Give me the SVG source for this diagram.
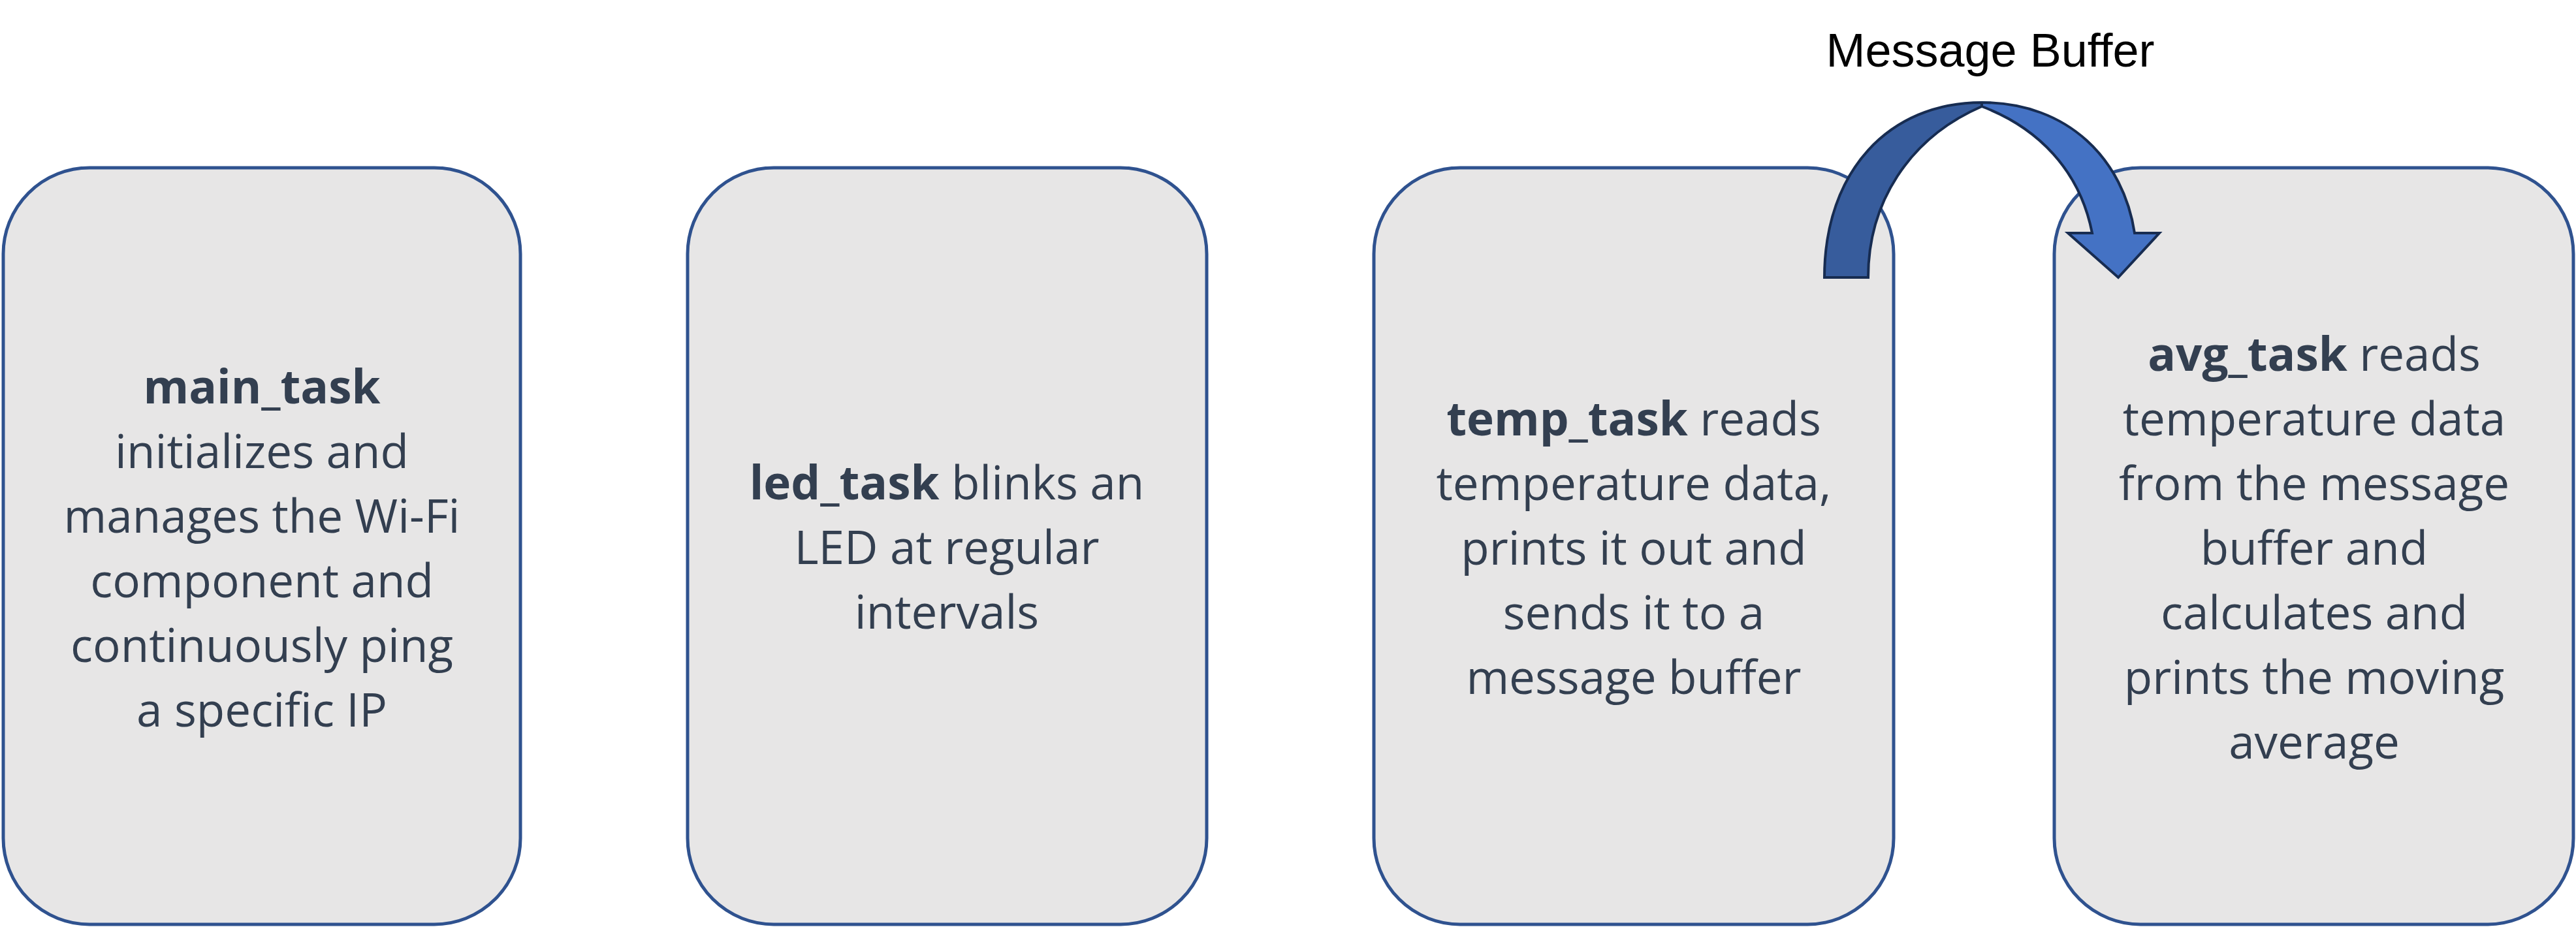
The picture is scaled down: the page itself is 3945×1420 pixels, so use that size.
<svg xmlns="http://www.w3.org/2000/svg" width="3945" height="1420" viewBox="0 0 3945 1420">
<style>
.box{fill:#E7E6E6;stroke:#2F528F;stroke-width:5}
.t{font-family:"Open Sans","Noto Sans",sans-serif;font-size:71px;fill:#333F50;text-anchor:middle}
.b{font-weight:bold}
.lbl{font-family:"Liberation Sans",Arial,sans-serif;font-size:72px;fill:#000000;text-anchor:middle}
.arrL{fill:#375C9C;stroke:#172C51;stroke-width:4;stroke-linejoin:miter}
.arrR{fill:#4472C4;stroke:#172C51;stroke-width:4;stroke-linejoin:miter}
</style>
<rect width="3945" height="1420" fill="#FFFFFF"/>
<g id="main_task">
<rect class="box" x="5" y="257" width="792" height="1159" rx="132" ry="132"/>
<text class="t" x="401"><tspan class="b" x="401" y="618">main_task</tspan><tspan x="401" y="717">initializes and</tspan><tspan x="401" y="816">manages the Wi-Fi</tspan><tspan x="401" y="915">component and</tspan><tspan x="401" y="1014">continuously ping</tspan><tspan x="401" y="1113">a specific IP</tspan></text>
</g>
<g id="led_task">
<rect class="box" x="1053" y="257" width="795" height="1159" rx="132" ry="132"/>
<text class="t" x="1450"><tspan x="1450" y="765"><tspan class="b">led_task</tspan> blinks an</tspan><tspan x="1450" y="864">LED at regular</tspan><tspan x="1450" y="963">intervals</tspan></text>
</g>
<g id="temp_task">
<rect class="box" x="2104" y="257" width="796" height="1159" rx="132" ry="132"/>
<text class="t" x="2502"><tspan x="2502" y="667"><tspan class="b">temp_task</tspan> reads</tspan><tspan x="2502" y="766">temperature data,</tspan><tspan x="2502" y="865">prints it out and</tspan><tspan x="2502" y="964">sends it to a</tspan><tspan x="2502" y="1063">message buffer</tspan></text>
</g>
<g id="avg_task">
<rect class="box" x="3146" y="257" width="795" height="1159" rx="132" ry="132"/>
<text class="t" x="3544"><tspan x="3544" y="568"><tspan class="b">avg_task</tspan> reads</tspan><tspan x="3544" y="667">temperature data</tspan><tspan x="3544" y="766">from the message</tspan><tspan x="3544" y="865">buffer and</tspan><tspan x="3544" y="964">calculates and</tspan><tspan x="3544" y="1063">prints the moving</tspan><tspan x="3544" y="1162">average</tspan></text>
</g>
<g id="connectors">
<g id="message_buffer_arrow">
<path class="arrL" d="M2794,425 L2861,425 C2861,312 2922,212 3035,163 L3035,157 C2893,157 2794,262 2794,425 Z"/>
<path class="arrR" d="M3035,157 C3168,157 3252,245 3269,357 L3307,357 L3244,425 L3167,357 L3204,357 C3185,260 3120,195 3035,163 Z"/>
</g>
<text class="lbl" x="3048" y="102">Message Buffer</text>
</g>
</svg>
